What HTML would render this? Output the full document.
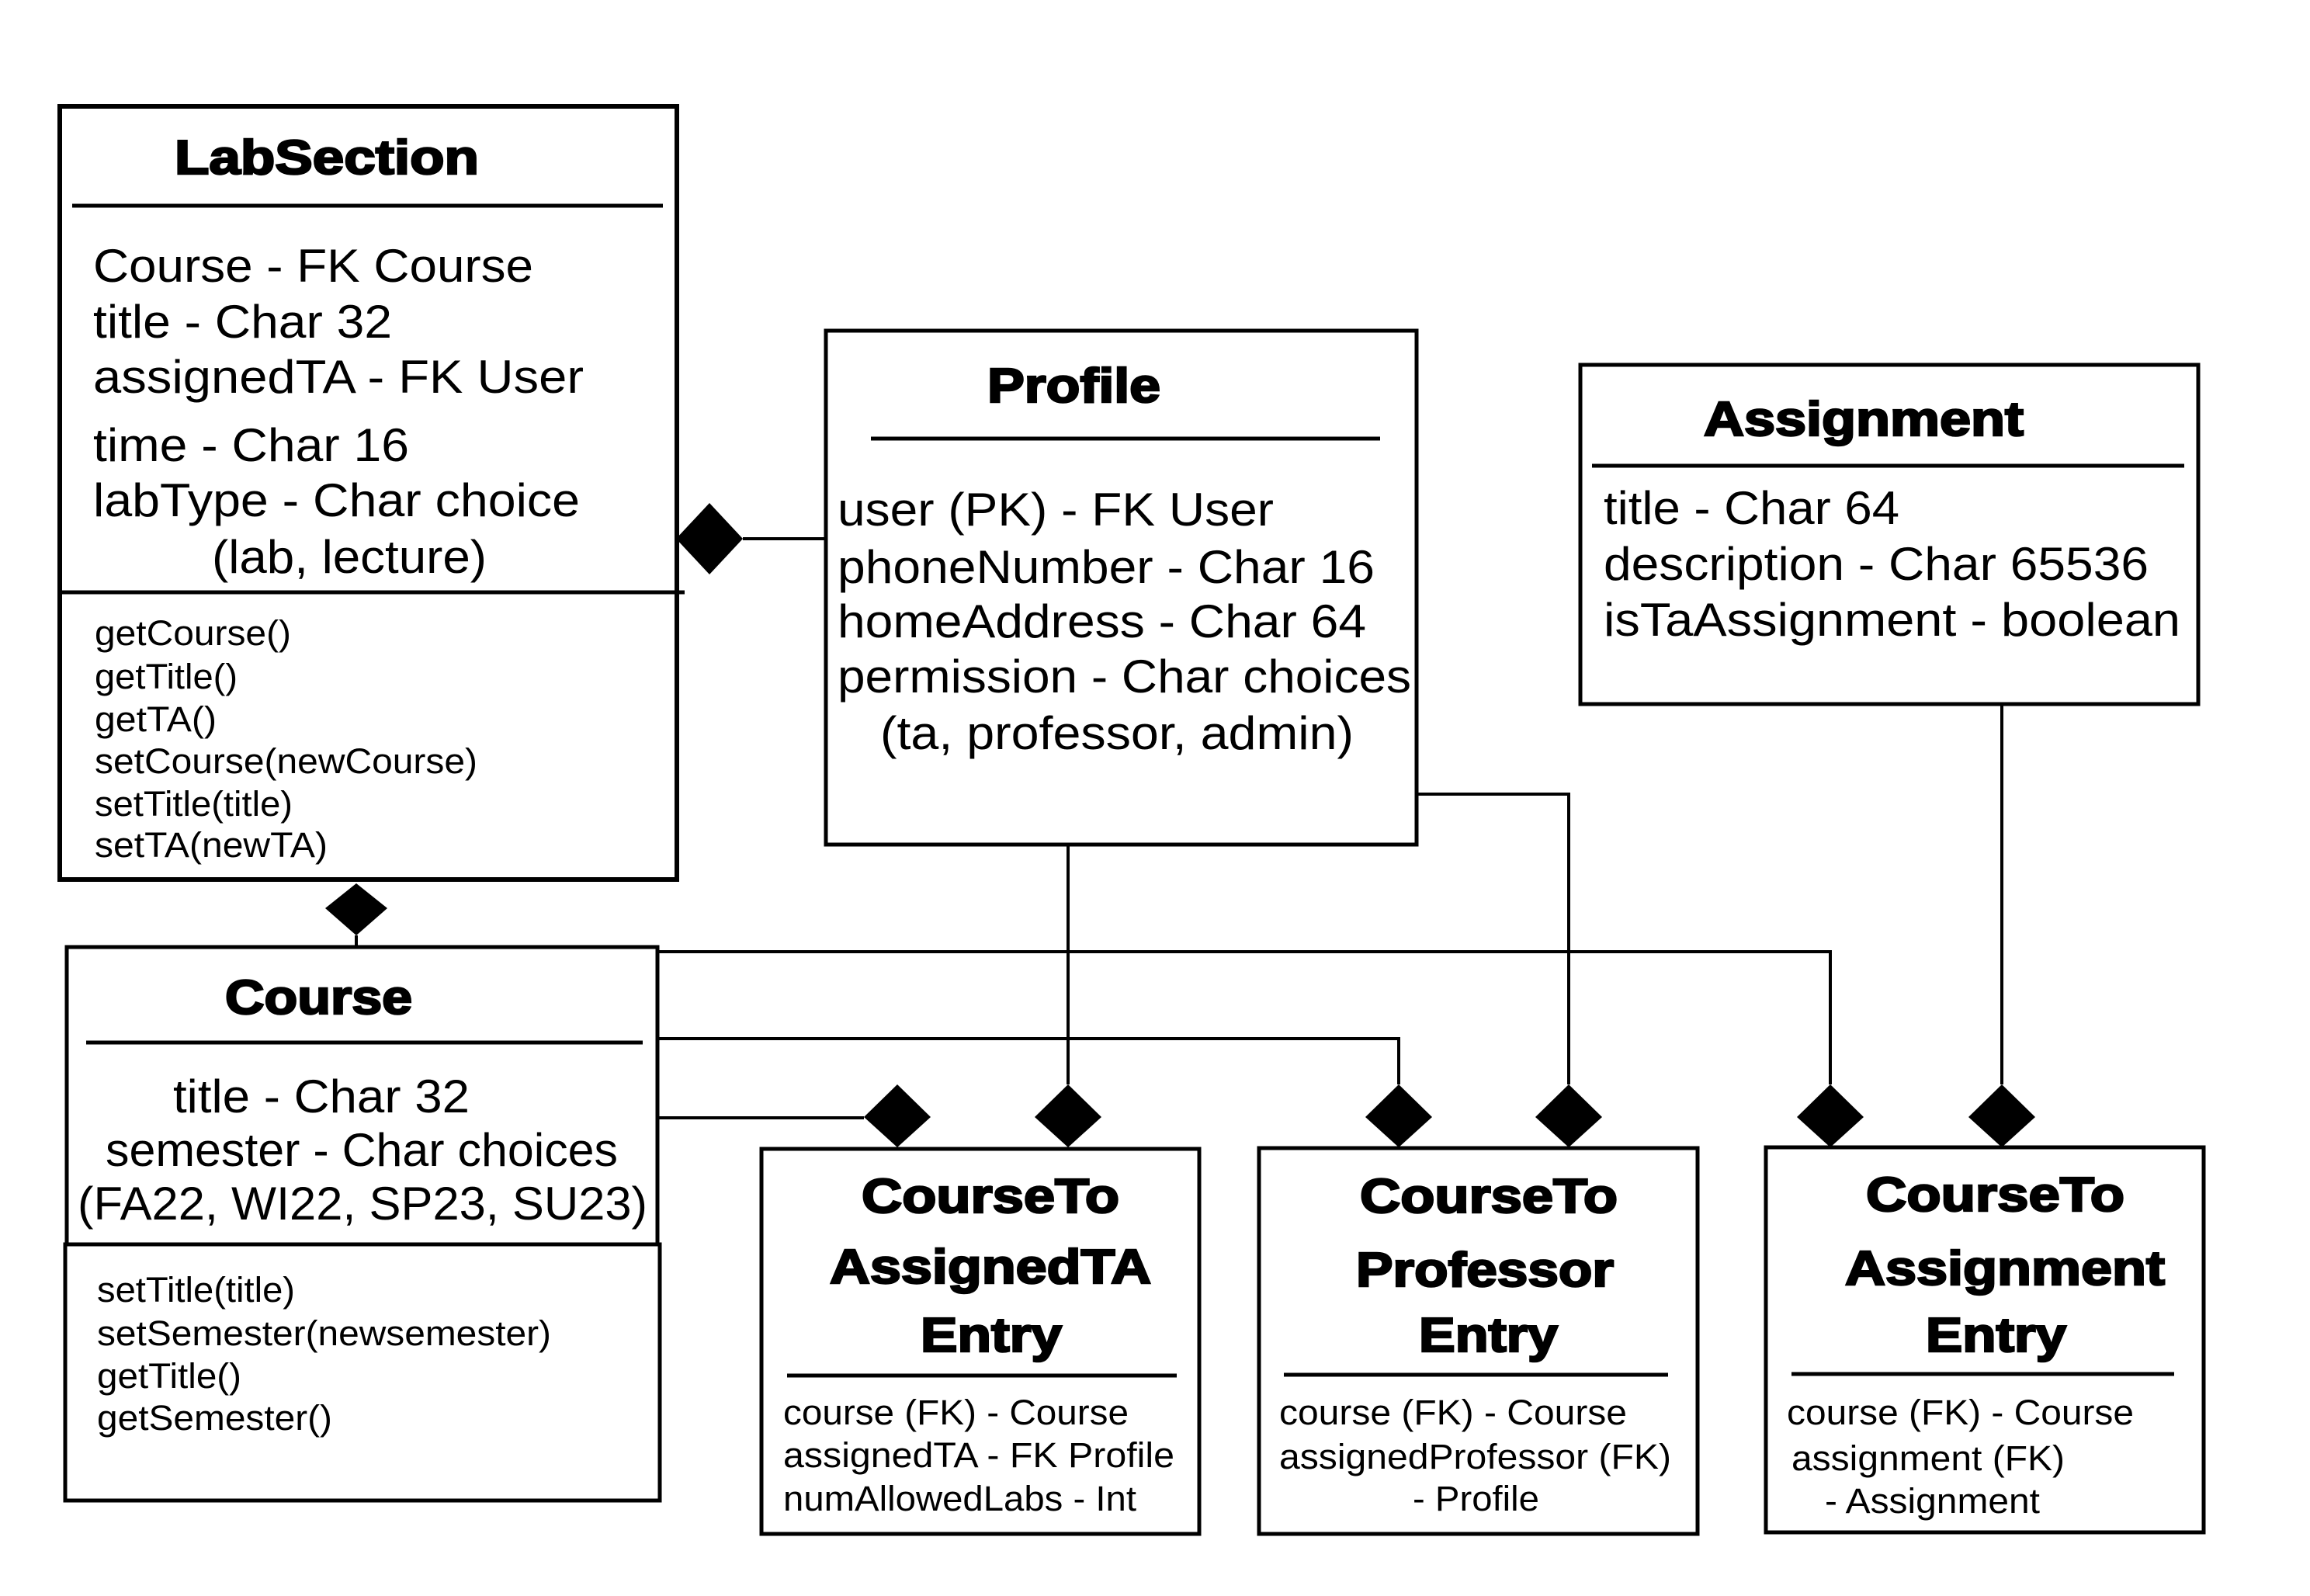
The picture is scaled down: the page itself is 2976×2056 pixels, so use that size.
<!DOCTYPE html>
<html><head><meta charset="utf-8"><style>
html,body{margin:0;padding:0;background:#fff;}
svg{display:block;}
text{font-family:"Liberation Sans",Arial,sans-serif;fill:#000;}
.t{font-weight:bold;font-size:62px;stroke:#000;stroke-width:2.5px;}
.a{font-size:60px;}
.m{font-size:45px;}
</style></head><body>
<svg width="2976" height="2056" viewBox="0 0 2976 2056" xmlns="http://www.w3.org/2000/svg">
<rect width="2976" height="2056" fill="#fff"/>
<g fill="none" stroke="#000" stroke-width="6">
<rect x="77" y="137" width="795" height="996"/>
<line x1="93" y1="265" x2="854" y2="265" stroke-width="5"/>
<line x1="80" y1="763" x2="882" y2="763" stroke-width="5"/>
<rect x="1064" y="426" width="761" height="662" stroke-width="5"/>
<line x1="1122" y1="565" x2="1778" y2="565" stroke-width="5"/>
<rect x="2036" y="470" width="796" height="437" stroke-width="5"/>
<line x1="2051" y1="600" x2="2814" y2="600" stroke-width="5"/>
<rect x="86" y="1220" width="761" height="383" stroke-width="5"/>
<line x1="111" y1="1343" x2="828" y2="1343" stroke-width="5"/>
<rect x="84" y="1603" width="766" height="330" stroke-width="5"/>
<rect x="981" y="1480" width="564" height="496" stroke-width="5"/>
<line x1="1014" y1="1772" x2="1516" y2="1772" stroke-width="5"/>
<rect x="1622" y="1479" width="565" height="497" stroke-width="5"/>
<line x1="1654" y1="1771" x2="2149" y2="1771" stroke-width="5"/>
<rect x="2275" y="1478" width="564" height="496" stroke-width="5"/>
<line x1="2308" y1="1770" x2="2801" y2="1770" stroke-width="5"/>
<g stroke-width="4">
<polyline points="957,694 1064,694"/>
<polyline points="459,1205 459,1220"/>
<polyline points="847,1226 2358,1226 2358,1397"/>
<polyline points="847,1338 1802,1338 1802,1397"/>
<polyline points="847,1440 1113,1440"/>
<polyline points="1376,1088 1376,1397"/>
<polyline points="1825,1023 2021,1023 2021,1397"/>
<polyline points="2579,907 2579,1397"/>
</g>
</g>
<g fill="#000">
<polygon points="871,694 914,648 957,694 914,740"/>
<polygon points="459,1138 499,1170 459,1205 419,1170"/>
<polygon points="1113,1439 1156,1397 1199,1439 1156,1478"/>
<polygon points="1333,1439 1376,1397 1419,1439 1376,1478"/>
<polygon points="1759,1439 1802,1397 1845,1439 1802,1478"/>
<polygon points="1978,1439 2021,1397 2064,1439 2021,1478"/>
<polygon points="2315,1439 2358,1397 2401,1439 2358,1478"/>
<polygon points="2536,1439 2579,1397 2622,1439 2579,1478"/>
</g>
<!-- LabSection -->
<text class="t" x="225" y="224" textLength="392" lengthAdjust="spacingAndGlyphs">LabSection</text>
<text class="a" x="120" y="363" textLength="567" lengthAdjust="spacingAndGlyphs">Course - FK Course</text>
<text class="a" x="120" y="435" textLength="385" lengthAdjust="spacingAndGlyphs">title - Char 32</text>
<text class="a" x="120" y="506" textLength="632" lengthAdjust="spacingAndGlyphs">assignedTA - FK User</text>
<text class="a" x="120" y="594" textLength="407" lengthAdjust="spacingAndGlyphs">time - Char 16</text>
<text class="a" x="120" y="665" textLength="627" lengthAdjust="spacingAndGlyphs">labType - Char choice</text>
<text class="a" x="273" y="738" textLength="354" lengthAdjust="spacingAndGlyphs">(lab, lecture)</text>
<text class="m" x="122" y="831" textLength="253" lengthAdjust="spacingAndGlyphs">getCourse()</text>
<text class="m" x="122" y="887" textLength="184" lengthAdjust="spacingAndGlyphs">getTitle()</text>
<text class="m" x="122" y="942" textLength="157" lengthAdjust="spacingAndGlyphs">getTA()</text>
<text class="m" x="122" y="996" textLength="493" lengthAdjust="spacingAndGlyphs">setCourse(newCourse)</text>
<text class="m" x="122" y="1051" textLength="255" lengthAdjust="spacingAndGlyphs">setTitle(title)</text>
<text class="m" x="122" y="1104" textLength="300" lengthAdjust="spacingAndGlyphs">setTA(newTA)</text>
<!-- Profile -->
<text class="t" x="1272" y="518" textLength="223" lengthAdjust="spacingAndGlyphs">Profile</text>
<text class="a" x="1079" y="677" textLength="562" lengthAdjust="spacingAndGlyphs">user (PK) - FK User</text>
<text class="a" x="1079" y="751" textLength="692" lengthAdjust="spacingAndGlyphs">phoneNumber - Char 16</text>
<text class="a" x="1079" y="821" textLength="681" lengthAdjust="spacingAndGlyphs">homeAddress - Char 64</text>
<text class="a" x="1079" y="892" textLength="739" lengthAdjust="spacingAndGlyphs">permission - Char choices</text>
<text class="a" x="1134" y="965" textLength="610" lengthAdjust="spacingAndGlyphs">(ta, professor, admin)</text>
<!-- Assignment -->
<text class="t" x="2195" y="561" textLength="412" lengthAdjust="spacingAndGlyphs">Assignment</text>
<text class="a" x="2066" y="675" textLength="381" lengthAdjust="spacingAndGlyphs">title - Char 64</text>
<text class="a" x="2066" y="747" textLength="702" lengthAdjust="spacingAndGlyphs">description - Char 65536</text>
<text class="a" x="2066" y="819" textLength="743" lengthAdjust="spacingAndGlyphs">isTaAssignment - boolean</text>
<!-- Course -->
<text class="t" x="290" y="1306" textLength="241" lengthAdjust="spacingAndGlyphs">Course</text>
<text class="a" x="223" y="1433" textLength="382" lengthAdjust="spacingAndGlyphs">title - Char 32</text>
<text class="a" x="136" y="1502" textLength="660" lengthAdjust="spacingAndGlyphs">semester - Char choices</text>
<text class="a" x="100" y="1571" textLength="734" lengthAdjust="spacingAndGlyphs">(FA22, WI22, SP23, SU23)</text>
<text class="m" x="125" y="1677" textLength="255" lengthAdjust="spacingAndGlyphs">setTitle(title)</text>
<text class="m" x="125" y="1733" textLength="585" lengthAdjust="spacingAndGlyphs">setSemester(newsemester)</text>
<text class="m" x="125" y="1788" textLength="186" lengthAdjust="spacingAndGlyphs">getTitle()</text>
<text class="m" x="125" y="1842" textLength="303" lengthAdjust="spacingAndGlyphs">getSemester()</text>
<!-- Entry A -->
<text class="t" x="1110" y="1562" textLength="332" lengthAdjust="spacingAndGlyphs">CourseTo</text>
<text class="t" x="1069" y="1653" textLength="414" lengthAdjust="spacingAndGlyphs">AssignedTA</text>
<text class="t" x="1186" y="1741" textLength="182" lengthAdjust="spacingAndGlyphs">Entry</text>
<text class="m" x="1009" y="1835" textLength="445" lengthAdjust="spacingAndGlyphs">course (FK) - Course</text>
<text class="m" x="1009" y="1890" textLength="504" lengthAdjust="spacingAndGlyphs">assignedTA - FK Profile</text>
<text class="m" x="1009" y="1946" textLength="455" lengthAdjust="spacingAndGlyphs">numAllowedLabs - Int</text>
<!-- Entry B -->
<text class="t" x="1752" y="1562" textLength="332" lengthAdjust="spacingAndGlyphs">CourseTo</text>
<text class="t" x="1747" y="1657" textLength="332" lengthAdjust="spacingAndGlyphs">Professor</text>
<text class="t" x="1828" y="1741" textLength="179" lengthAdjust="spacingAndGlyphs">Entry</text>
<text class="m" x="1648" y="1835" textLength="448" lengthAdjust="spacingAndGlyphs">course (FK) - Course</text>
<text class="m" x="1648" y="1892" textLength="505" lengthAdjust="spacingAndGlyphs">assignedProfessor (FK)</text>
<text class="m" x="1820" y="1946" textLength="163" lengthAdjust="spacingAndGlyphs">- Profile</text>
<!-- Entry C -->
<text class="t" x="2404" y="1560" textLength="333" lengthAdjust="spacingAndGlyphs">CourseTo</text>
<text class="t" x="2377" y="1655" textLength="412" lengthAdjust="spacingAndGlyphs">Assignment</text>
<text class="t" x="2481" y="1741" textLength="181" lengthAdjust="spacingAndGlyphs">Entry</text>
<text class="m" x="2302" y="1835" textLength="447" lengthAdjust="spacingAndGlyphs">course (FK) - Course</text>
<text class="m" x="2308" y="1894" textLength="352" lengthAdjust="spacingAndGlyphs">assignment (FK)</text>
<text class="m" x="2351" y="1949" textLength="277" lengthAdjust="spacingAndGlyphs">- Assignment</text>
</svg>
</body></html>
